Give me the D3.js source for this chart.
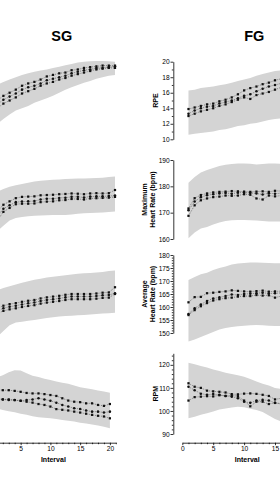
<!DOCTYPE html>
<html>
<head>
<meta charset="utf-8">
<script src="https://cdn.jsdelivr.net/npm/d3@7"></script>
<style>
  html, body { margin: 0; padding: 0; background: #fff; overflow: hidden; }
  svg { display: block; font-family: "Liberation Sans", Arial, sans-serif; }
</style>
</head>
<body>
<svg id="chart" width="280" height="480"></svg>
<script>
// intervals shown in each group
const SG_INTERVALS = [1, 2, 3, 4, 5, 6, 7, 8, 9, 10, 11, 12, 13, 14, 15, 16, 17, 18, 19, 20];
const FG_INTERVALS = [1, 2, 3, 4, 5, 6, 7, 8, 9, 10, 11, 12, 13, 14, 15, 16];
const X_TICKS = [0, 5, 10, 15, 20];

// ---- SG ----
const SG_RPE_UP = [17.0, 17.4, 17.7, 18.0, 18.3, 18.5, 18.7, 18.85, 19.0, 19.2, 19.35, 19.55, 19.7, 19.9, 20.0, 20.05, 20.1, 20.1, 20.05, 20.0];
const SG_RPE_LO = [12.0, 12.6, 13.2, 13.7, 14.0, 14.3, 14.7, 15.0, 15.3, 15.6, 16.0, 16.4, 16.7, 17.0, 17.3, 17.5, 17.8, 18.0, 18.2, 18.3];
const SG_RPE_A = [15.0, 15.6, 16.0, 16.4, 16.9, 17.2, 17.4, 17.7, 18.1, 18.3, 18.5, 18.6, 18.9, 19.0, 19.2, 19.3, 19.4, 19.5, 19.5, 19.5];
const SG_RPE_B = [14.5, 15.1, 15.5, 15.9, 16.4, 16.7, 16.9, 17.2, 17.6, 17.8, 18.0, 18.2, 18.5, 18.7, 18.9, 19.0, 19.2, 19.2, 19.3, 19.4];
const SG_RPE_C = [14.0, 14.6, 15.0, 15.4, 15.9, 16.2, 16.5, 16.9, 17.2, 17.4, 17.7, 17.9, 18.2, 18.4, 18.6, 18.8, 19.0, 19.1, 19.2, 19.2];

const SG_MAX_UP = [178.0, 179.0, 179.8, 180.4, 180.9, 181.4, 181.8, 182.1, 182.3, 182.5, 182.6, 182.8, 182.9, 183.0, 183.0, 183.1, 183.2, 183.3, 183.5, 183.7];
const SG_MAX_LO = [163.0, 165.0, 167.0, 168.0, 168.4, 168.6, 168.8, 168.9, 169.0, 169.1, 169.1, 169.1, 169.3, 169.6, 169.8, 169.9, 170.0, 170.1, 170.3, 170.4];
const SG_MAX_A = [170.5, 173.0, 174.3, 175.5, 176.0, 176.1, 176.2, 176.6, 176.7, 176.8, 177.0, 177.1, 177.3, 177.2, 177.0, 177.3, 177.4, 177.3, 177.4, 178.6];
const SG_MAX_B = [168.5, 171.5, 172.8, 174.0, 174.2, 174.3, 174.4, 175.0, 175.3, 175.3, 175.6, 175.7, 176.0, 176.0, 175.8, 176.1, 176.2, 176.2, 176.3, 176.5];
const SG_MAX_C = [167.0, 170.3, 171.8, 173.2, 173.4, 173.4, 173.5, 174.0, 174.2, 174.3, 174.7, 174.8, 175.2, 175.2, 175.0, 175.4, 175.5, 175.6, 175.7, 176.0];

const SG_AVG_UP = [166.5, 167.3, 168.0, 168.7, 169.3, 169.9, 170.5, 170.9, 171.3, 171.6, 171.9, 172.2, 172.5, 172.8, 173.0, 173.1, 173.3, 173.5, 173.8, 174.0];
const SG_AVG_LO = [148.5, 150.8, 153.0, 154.0, 154.3, 154.7, 155.0, 155.4, 155.8, 156.1, 156.3, 156.5, 156.6, 156.8, 156.9, 157.1, 157.3, 157.5, 157.6, 157.8];
const SG_AVG_A = [159.5, 160.5, 161.1, 161.5, 162.0, 162.4, 162.7, 163.3, 163.7, 164.0, 164.3, 164.7, 165.0, 165.0, 165.0, 165.0, 165.2, 165.5, 165.6, 167.6];
const SG_AVG_B = [158.5, 159.5, 160.1, 160.5, 161.0, 161.4, 161.7, 162.3, 162.7, 163.0, 163.3, 163.7, 164.0, 164.0, 164.0, 164.0, 164.2, 164.5, 164.6, 165.3];
const SG_AVG_C = [157.5, 158.5, 159.1, 159.5, 160.0, 160.4, 160.7, 161.3, 161.7, 162.0, 162.3, 162.7, 163.0, 163.0, 163.0, 163.0, 163.2, 163.5, 163.6, 165.0];

const SG_RPM_UP = [114.5, 115.5, 116.8, 117.6, 117.5, 116.4, 115.3, 114.7, 114.0, 113.4, 112.8, 112.2, 111.8, 111.0, 110.3, 109.8, 109.4, 108.9, 108.4, 107.9];
const SG_RPM_LO = [101.0, 100.4, 99.9, 99.4, 98.8, 98.3, 97.7, 97.3, 97.1, 96.8, 96.5, 96.1, 95.8, 95.4, 94.9, 94.5, 94.1, 93.7, 93.1, 92.5];
const SG_RPM_A = [109.2, 109.0, 109.0, 108.7, 108.3, 107.8, 107.6, 107.6, 107.3, 106.9, 106.5, 105.5, 104.5, 104.0, 103.8, 103.3, 103.3, 102.6, 102.2, 103.0];
const SG_RPM_B = [105.3, 105.0, 104.7, 104.7, 104.4, 104.7, 105.0, 105.5, 105.0, 104.4, 103.6, 102.6, 101.9, 101.2, 100.8, 100.2, 99.7, 99.7, 99.3, 99.7];
const SG_RPM_C = [105.2, 105.0, 105.0, 104.7, 104.4, 104.0, 103.6, 103.0, 102.6, 101.9, 100.8, 100.5, 100.2, 99.7, 99.3, 98.8, 98.3, 97.9, 97.6, 96.8];

// ---- FG ----
const FG_RPE_UP = [16.3, 16.4, 16.6, 16.7, 16.8, 16.95, 17.1, 17.3, 17.5, 17.7, 17.9, 18.2, 18.4, 18.6, 18.8, 18.9];
const FG_RPE_LO = [10.6, 10.7, 10.8, 10.9, 11.0, 11.2, 11.3, 11.5, 11.7, 11.8, 12.0, 12.1, 12.3, 12.5, 12.6, 12.7];
const FG_RPE_A = [13.9, 14.1, 14.3, 14.5, 14.6, 14.9, 15.1, 15.4, 15.8, 16.3, 16.6, 16.8, 17.1, 17.3, 17.6, 17.8];
const FG_RPE_B = [13.3, 13.7, 14.0, 14.2, 14.3, 14.6, 14.8, 15.0, 15.3, 15.6, 15.8, 16.2, 16.5, 16.8, 17.0, 17.2];
const FG_RPE_C = [13.0, 13.3, 13.6, 13.8, 14.0, 14.3, 14.5, 14.8, 15.1, 15.4, 15.2, 15.7, 15.9, 16.1, 16.4, 16.7];

const FG_MAX_UP = [181.4, 183.5, 185.3, 186.2, 187.0, 187.7, 188.2, 188.5, 188.7, 188.7, 188.6, 188.3, 188.5, 188.7, 188.7, 188.6];
const FG_MAX_LO = [160.3, 162.5, 164.0, 164.6, 165.5, 166.3, 166.8, 167.1, 167.2, 167.2, 167.1, 167.0, 166.8, 166.6, 166.6, 166.7];
const FG_MAX_A = [171.6, 175.5, 176.7, 177.3, 177.7, 177.9, 178.0, 178.2, 178.1, 178.0, 177.9, 178.0, 178.1, 177.9, 178.3, 178.2];
const FG_MAX_B = [170.9, 174.2, 175.9, 176.6, 177.0, 177.3, 177.5, 177.2, 177.6, 177.6, 177.5, 177.3, 176.9, 177.4, 177.2, 177.4];
const FG_MAX_C = [168.8, 172.8, 174.7, 175.4, 175.9, 176.1, 176.5, 176.4, 176.5, 177.0, 176.8, 175.4, 175.0, 176.5, 176.2, 176.5];

const FG_AVG_UP = [170.4, 171.5, 172.6, 173.2, 174.2, 175.0, 175.6, 176.3, 176.7, 176.9, 177.1, 177.1, 177.0, 176.9, 176.8, 176.8];
const FG_AVG_LO = [146.7, 147.5, 148.5, 149.4, 150.4, 151.3, 151.9, 152.3, 152.6, 152.8, 153.0, 153.1, 153.0, 152.8, 152.7, 152.7];
const FG_AVG_A = [161.8, 163.8, 163.9, 165.3, 165.5, 165.8, 166.0, 166.4, 166.2, 166.0, 165.9, 166.1, 166.3, 165.9, 166.0, 166.1];
const FG_AVG_B = [157.3, 159.5, 161.0, 162.3, 163.3, 163.7, 164.2, 164.8, 164.6, 165.0, 165.1, 165.3, 165.5, 165.2, 165.3, 165.4];
const FG_AVG_C = [156.9, 158.8, 160.3, 161.5, 162.5, 163.0, 163.4, 163.6, 164.0, 164.2, 164.2, 164.6, 164.4, 164.5, 163.6, 164.2];

const FG_RPM_UP = [120.9, 120.3, 119.5, 118.8, 118.0, 117.3, 116.6, 116.0, 115.5, 114.8, 113.8, 112.8, 111.8, 111.0, 110.0, 109.5];
const FG_RPM_LO = [96.8, 97.5, 98.3, 99.0, 99.8, 100.6, 101.1, 101.5, 101.8, 101.6, 101.0, 100.4, 99.5, 98.0, 96.5, 95.5];
const FG_RPM_A = [112.0, 110.5, 110.0, 108.8, 108.5, 108.3, 108.0, 107.3, 107.2, 107.5, 107.6, 107.4, 107.0, 106.5, 105.0, 105.5];
const FG_RPM_B = [110.5, 109.0, 107.5, 107.0, 107.3, 107.0, 106.5, 106.2, 105.5, 104.0, 103.5, 104.5, 104.8, 104.5, 103.5, 103.2];
const FG_RPM_C = [104.5, 106.0, 106.2, 106.4, 106.3, 106.8, 106.5, 106.7, 106.4, 104.5, 102.0, 104.0, 104.0, 103.0, 103.5, 103.0];

// ---- layout ----
const BAND = "#d4d4d4";
const ROWS = [
  { domain: [10, 20], range: [139.3, 61.7], major: [10, 12, 14, 16, 18, 20], minorStep: 1, title: ["RPE"] },
  { domain: [160, 190], range: [239, 160], major: [160, 170, 180, 190], minorStep: 0, title: ["Maximum", "Heart Rate (bpm)"] },
  { domain: [150, 180], range: [333, 255], major: [150, 155, 160, 165, 170, 175, 180], minorStep: 1, title: ["Average", "Heart Rate (bpm)"] },
  { domain: [90, 125], range: [434, 353.3], major: [90, 100, 110, 120], minorStep: 2, title: ["RPM"] },
];

// SG's y axis lies left of the visible area, so only its x axis is drawn
const GROUPS = [
  {
    name: "SG", titleX: 61.7, axisX: null, xAxisY: 442.7,
    intervals: SG_INTERVALS,
    xTop: [-9, -9 + 21 * 6.2], xBottom: [-9.1, -9.1 + 21 * 5.95],
    panels: [
      [SG_RPE_UP, SG_RPE_LO, SG_RPE_A, SG_RPE_B, SG_RPE_C],
      [SG_MAX_UP, SG_MAX_LO, SG_MAX_A, SG_MAX_B, SG_MAX_C],
      [SG_AVG_UP, SG_AVG_LO, SG_AVG_A, SG_AVG_B, SG_AVG_C],
      [SG_RPM_UP, SG_RPM_LO, SG_RPM_A, SG_RPM_B, SG_RPM_C],
    ],
  },
  {
    name: "FG", titleX: 254.3, axisX: 173.3, xAxisY: 442.7,
    intervals: FG_INTERVALS,
    xTop: [182.3, 182.3 + 21 * 6.18], xBottom: [182.3, 182.3 + 21 * 6.18],
    panels: [
      [FG_RPE_UP, FG_RPE_LO, FG_RPE_A, FG_RPE_B, FG_RPE_C],
      [FG_MAX_UP, FG_MAX_LO, FG_MAX_A, FG_MAX_B, FG_MAX_C],
      [FG_AVG_UP, FG_AVG_LO, FG_AVG_A, FG_AVG_B, FG_AVG_C],
      [FG_RPM_UP, FG_RPM_LO, FG_RPM_A, FG_RPM_B, FG_RPM_C],
    ],
  },
];

const SYMBOLS = [d3.symbolSquare, d3.symbolCircle, d3.symbolSquare];

const svg = d3.select("#chart");

function styleAxis(g) {
  g.selectAll("path, line").attr("stroke", "#000").attr("stroke-width", 0.8);
  g.selectAll("text").attr("font-size", 6.6).attr("fill", "#000");
}

function drawPanel(group, row, rowIdx, data) {
  const isLast = rowIdx === ROWS.length - 1;
  const x = d3.scaleLinear().domain([0, 21]).range(isLast ? group.xBottom : group.xTop);
  const y = d3.scaleLinear().domain(row.domain).range(row.range);
  const [up, lo, ...series] = data;
  const ints = group.intervals;

  const area = d3.area()
    .x((d, i) => x(ints[i]))
    .y0((d, i) => y(lo[i]))
    .y1((d) => y(d));
  svg.append("path").datum(up).attr("d", area).attr("fill", BAND);

  const line = d3.line().x((d, i) => x(ints[i])).y((d) => y(d));
  series.forEach((s, k) => {
    svg.append("path")
      .datum(s)
      .attr("d", line)
      .attr("fill", "none")
      .attr("stroke", "#333")
      .attr("stroke-width", 0.5)
      .attr("stroke-dasharray", "1,1");
    svg.append("g")
      .selectAll("path")
      .data(s)
      .join("path")
      .attr("transform", (d, i) => `translate(${x(ints[i])},${y(d)})`)
      .attr("d", d3.symbol().type(SYMBOLS[k]).size(5))
      .attr("fill", "#111");
  });

  if (group.axisX !== null) {
    const ax = svg.append("g").attr("transform", `translate(${group.axisX},0)`);
    ax.call(d3.axisLeft(y).tickValues(row.major).tickSize(2.8).tickSizeOuter(0).tickPadding(0.8));
    if (row.minorStep) {
      const minor = d3.range(row.domain[0], row.domain[1] + 0.001, row.minorStep)
        .filter((v) => !row.major.includes(v));
      ax.append("g").call(d3.axisLeft(y).tickValues(minor).tickSize(1.5).tickFormat(""))
        .select(".domain").remove();
    }
    styleAxis(ax);

    const mid = (row.range[0] + row.range[1]) / 2;
    const lines = row.title;
    lines.forEach((t, i) => {
      const tx = lines.length === 1 ? group.axisX - 17.6 : group.axisX - 29.3 + i * 8;
      svg.append("text")
        .attr("transform", `translate(${tx},${mid}) rotate(-90)`)
        .attr("text-anchor", "middle")
        .attr("dominant-baseline", "central")
        .attr("font-size", 7)
        .attr("font-weight", "bold")
        .text(t);
    });
  }

  if (isLast) {
    const xa = svg.append("g").attr("transform", `translate(0,${group.xAxisY})`);
    // hide the label of any tick that falls left of the picture
    xa.call(d3.axisBottom(x).tickValues(X_TICKS).tickSize(2.5).tickSizeOuter(0).tickPadding(1.5)
      .tickFormat((d) => (x(d) < 3 ? "" : d)));
    xa.append("g").call(d3.axisBottom(x).tickValues(d3.range(0, 22).filter((v) => v % 5)).tickSize(1.5).tickFormat(""))
      .select(".domain").remove();
    styleAxis(xa);
    svg.append("text")
      .attr("x", (x.range()[0] + x.range()[1]) / 2)
      .attr("y", 461.5)
      .attr("text-anchor", "middle")
      .attr("font-size", 7)
      .attr("font-weight", "bold")
      .text("Interval");
  }
}

GROUPS.forEach((group) => {
  svg.append("text")
    .attr("x", group.titleX)
    .attr("y", 41.3)
    .attr("text-anchor", "middle")
    .attr("font-size", 14.5)
    .attr("font-weight", "bold")
    .text(group.name);
  ROWS.forEach((row, i) => drawPanel(group, row, i, group.panels[i]));
});
</script>
</body>
</html>
